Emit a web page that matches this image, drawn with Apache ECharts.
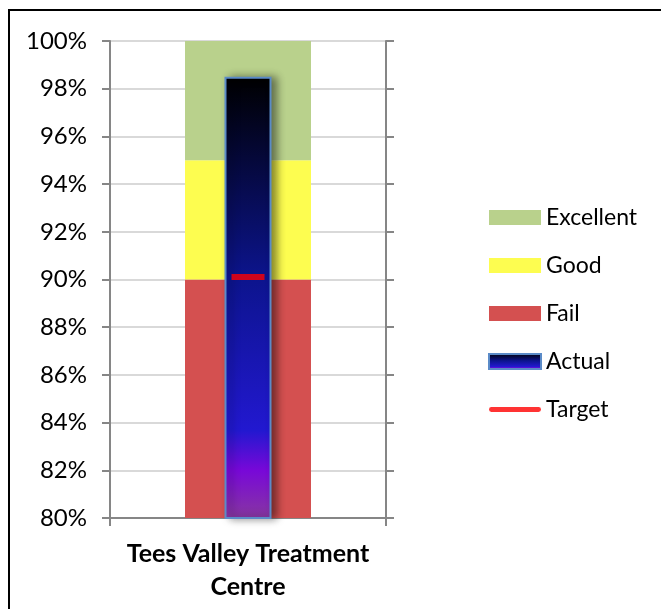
<!DOCTYPE html>
<html>
<head>
<meta charset="utf-8">
<script src="https://cdn.jsdelivr.net/npm/echarts@6/dist/echarts.min.js"></script>
<style>
  html, body { margin: 0; padding: 0; background: #fff; }
  #frame {
    position: absolute; left: 8px; top: 9px; width: 700px; height: 700px;
    border-left: 2px solid #000; border-top: 2px solid #000;
  }
  #chart { position: absolute; left: 0; top: 0; width: 661px; height: 609px; }
</style>
</head>
<body>
<div id="frame"></div>
<div id="chart"></div>
<script>
// categories and values
const categories = ["Tees Valley Treatment Centre"];
const failBand = [90];       // 80% .. 90%
const goodBand = [5];        // 90% .. 95%
const excellentBand = [5];   // 95% .. 100%
const actual = [98.5];
const target = [90.1];

const font = "Lato";
const axisGrey = "#868686";

let myChart = echarts.init(document.getElementById("chart"));
myChart.setOption({
  animation: false,
  textStyle: { fontFamily: font },
  grid: { left: 110, right: 275, top: 41, bottom: 91 },
  legend: {
    orient: "vertical",
    left: 488,
    top: 206,
    padding: 0,
    itemWidth: 52,
    itemHeight: 15,
    itemGap: 25,
    textStyle: { fontFamily: font, fontSize: 23, color: "#000" },
    data: [
      { name: "Excellent", icon: "rect" },
      { name: "Good", icon: "rect" },
      { name: "Fail", icon: "rect" },
      { name: "Actual", icon: "rect" },
      { name: "Target", icon: "path://M0,0L0,0M2,5L50,5A2.5,2.5,0,0,1,50,10L2,10A2.5,2.5,0,0,1,2,5ZM52,15L52,15" }
    ]
  },
  xAxis: [
    {
      type: "category",
      data: categories,
      axisLine: { lineStyle: { color: axisGrey, width: 2 } },
      axisTick: { show: true, length: 8, lineStyle: { color: axisGrey, width: 2 } },
      axisLabel: {
        margin: 19,
        fontFamily: font,
        fontSize: 25,
        fontWeight: "bold",
        color: "#000",
        lineHeight: 33,
        formatter: function (v) { return v.replace(" Centre", "\nCentre"); }
      }
    },
    { type: "category", data: categories, show: false }
  ],
  yAxis: [
    {
      type: "value",
      min: 80,
      max: 100,
      interval: 2,
      axisLine: { show: true, lineStyle: { color: axisGrey, width: 2 } },
      axisTick: { show: true, length: 8, lineStyle: { color: axisGrey, width: 2 } },
      splitLine: { lineStyle: { color: "#d9d9d9", width: 2 } },
      axisLabel: {
        margin: 23,
        fontFamily: font,
        fontSize: 24,
        color: "#000",
        formatter: "{value}%"
      }
    },
    {
      type: "value",
      min: 80,
      max: 100,
      interval: 2,
      position: "right",
      axisLine: { show: true, lineStyle: { color: axisGrey, width: 2 } },
      axisTick: { show: true, length: 8, lineStyle: { color: axisGrey, width: 2 } },
      splitLine: { show: false },
      axisLabel: { show: false }
    }
  ],
  series: [
    {
      name: "Fail",
      type: "bar",
      stack: "band",
      barWidth: 126,
      data: failBand,
      itemStyle: { color: "#d45050" }
    },
    {
      name: "Good",
      type: "bar",
      stack: "band",
      barWidth: 126,
      data: goodBand,
      itemStyle: { color: "#fdfd50" }
    },
    {
      name: "Excellent",
      type: "bar",
      stack: "band",
      barWidth: 126,
      data: excellentBand,
      itemStyle: { color: "#b9d18c" }
    },
    {
      name: "Actual",
      type: "bar",
      xAxisIndex: 1,
      barWidth: 47,
      data: actual,
      z: 5,
      itemStyle: {
        color: new echarts.graphic.LinearGradient(0, 0, 0, 1, [
          { offset: 0, color: "#000000" },
          { offset: 0.45, color: "#0c148c" },
          { offset: 0.8, color: "#2218d0" },
          { offset: 0.89, color: "#7808d8" },
          { offset: 1, color: "#8838a0" }
        ]),
        borderColor: "#5b8bc8",
        borderWidth: 2,
        shadowColor: "rgba(0,0,0,0.45)",
        shadowBlur: 8,
        shadowOffsetX: 5
      }
    },
    {
      name: "Target",
      type: "scatter",
      data: target,
      symbol: "rect",
      symbolSize: [33, 6],
      z: 10,
      itemStyle: { color: "#ff0000" }
    }
  ]
});
</script>
</body>
</html>
